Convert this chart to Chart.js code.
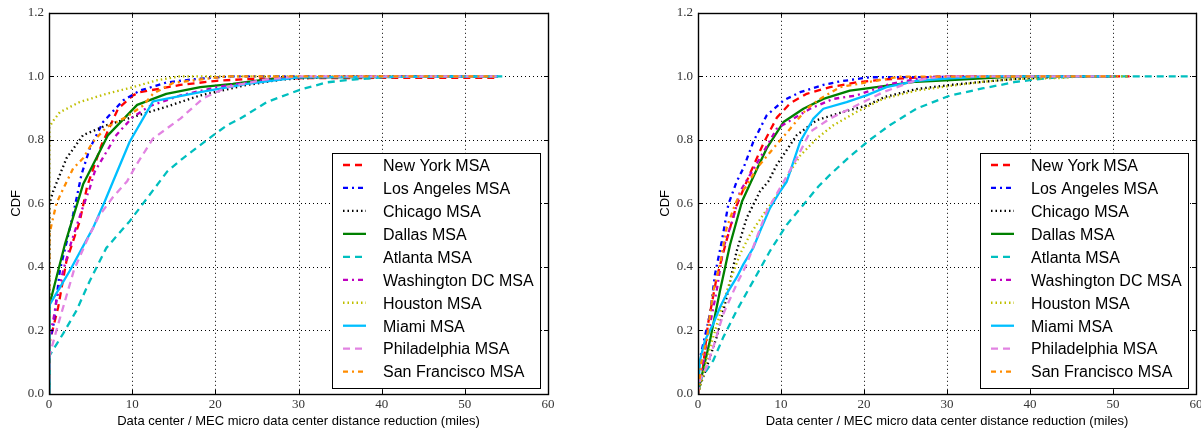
<!DOCTYPE html>
<html>
<head>
<meta charset="utf-8">
<script src="https://cdn.jsdelivr.net/npm/chart.js@4.4.1/dist/chart.umd.min.js"></script>
<style>
  html, body { margin: 0; padding: 0; background: #fff; overflow: hidden; width: 1201px; height: 433px; }
  canvas { position: absolute; top: 0; }
  #left { left: 0; }
  #right { left: 649px; }
</style>
</head>
<body>
<canvas id="left" width="600" height="433"></canvas>
<canvas id="right" width="560" height="433"></canvas>
<script>
// ---------- categories ----------
const SERIES = ['New York MSA', 'Los Angeles MSA', 'Chicago MSA', 'Dallas MSA', 'Atlanta MSA',
  'Washington DC MSA', 'Houston MSA', 'Miami MSA', 'Philadelphia MSA', 'San Francisco MSA'];
const X_TICKS = [0, 10, 20, 30, 40, 50, 60];
const Y_TICKS = [0.0, 0.2, 0.4, 0.6, 0.8, 1.0, 1.2];
const X_TITLE = 'Data center / MEC micro data center distance reduction (miles)';
const Y_TITLE = 'CDF';

// ---------- left chart data (miles, CDF) ----------
const L_NY_X = [0, 0.05, 1.1, 2.1, 3.7, 4.6, 6.3, 8.3, 10.1, 10.9, 15.8, 20.2, 24.2, 30, 40, 54];
const L_NY_Y = [0, 0.16, 0.273, 0.419, 0.544, 0.655, 0.783, 0.898, 0.94, 0.95, 0.973, 0.986, 0.992, 0.994, 0.995, 0.995];
const L_LA_X = [0, 0.05, 0.5, 1.3, 2.9, 3.9, 4.9, 6.5, 8.9, 10.9, 14.2, 17.8, 22, 54];
const L_LA_Y = [0, 0.17, 0.21, 0.388, 0.565, 0.69, 0.773, 0.856, 0.924, 0.955, 0.981, 0.992, 1.0, 1.0];
const L_CHI_X = [0, 0.05, 0.5, 2.1, 4.1, 6.9, 10.1, 14.2, 18.2, 23.4, 28, 35, 54];
const L_CHI_Y = [0, 0.6, 0.638, 0.742, 0.815, 0.846, 0.872, 0.905, 0.94, 0.971, 0.99, 1.0, 1.0];
const L_DAL_X = [0, 0.05, 1.9, 4.1, 5.9, 7.1, 10.6, 14.1, 18.2, 22.1, 26.2, 30, 54];
const L_DAL_Y = [0, 0.28, 0.47, 0.66, 0.753, 0.815, 0.91, 0.945, 0.966, 0.976, 0.99, 0.997, 1.0];
const L_ATL_X = [0, 0.05, 1.7, 3.3, 4.9, 6.9, 9.7, 11.9, 14.2, 16.1, 19, 21.4, 23, 26.2, 30.2, 33.4, 36.6, 40.2, 45, 54.5];
const L_ATL_Y = [0, 0.12, 0.19, 0.2625, 0.356, 0.46, 0.544, 0.62, 0.70, 0.742, 0.8, 0.846, 0.867, 0.919, 0.958, 0.981, 0.99, 0.997, 1.0, 1.0];
const L_WAS_X = [0, 0.05, 0.5, 0.9, 1.7, 2.7, 3.9, 4.9, 5.5, 8.1, 10, 12, 15.8, 20.2, 25, 30, 40, 54];
const L_WAS_Y = [0, 0.18, 0.23, 0.294, 0.388, 0.48, 0.575, 0.648, 0.7, 0.815, 0.87, 0.905, 0.94, 0.966, 0.985, 0.997, 1.0, 1.0];
const L_HOU_X = [0, 0.05, 0.5, 1.3, 3.7, 6.9, 10.1, 12.9, 15.7, 54];
const L_HOU_Y = [0, 0.84, 0.86, 0.887, 0.919, 0.945, 0.966, 0.987, 1.0, 1.0];
const L_MIA_X = [0, 0.05, 2.5, 5.3, 6.7, 7.7, 9.7, 12.5, 18.2, 23.8, 30, 54];
const L_MIA_Y = [0, 0.28, 0.388, 0.523, 0.606, 0.669, 0.794, 0.921, 0.95, 0.976, 0.997, 1.0];
const L_PHI_X = [0, 0.05, 1, 2, 3, 4.5, 6, 7.7, 9.4, 10.5, 12.5, 15.8, 18.5, 21.4, 26, 30, 54];
const L_PHI_Y = [0, 0.12, 0.21, 0.3, 0.39, 0.48, 0.56, 0.62, 0.67, 0.721, 0.804, 0.867, 0.93, 0.966, 0.99, 1.0, 1.0];
const L_SF_X = [0, 0.05, 0.3, 0.9, 1.6, 2.9, 4.1, 5.3, 6.9, 9.3, 11.3, 12.5, 14.9, 18.2, 21.4, 54];
const L_SF_Y = [0, 0.5, 0.533, 0.6, 0.64, 0.71, 0.742, 0.794, 0.84, 0.872, 0.908, 0.945, 0.979, 0.99, 1.0, 1.0];

// ---------- right chart data (miles, CDF) ----------
const R_NY_X = [0, 0.6, 1.2, 2.2, 3.4, 4.6, 6.2, 7.9, 9.5, 11.1, 13.1, 15.9, 19.1, 22.3, 27, 30, 52];
const R_NY_Y = [0, 0.085, 0.22, 0.36, 0.48, 0.59, 0.69, 0.79, 0.87, 0.915, 0.945, 0.966, 0.981, 0.99, 0.997, 1.0, 1.0];
const R_LA_X = [0, 0.3, 1.45, 2.05, 2.86, 3.65, 4.66, 5.46, 6.66, 8.27, 10.3, 12.3, 15.1, 17.1, 20.7, 50];
const R_LA_Y = [0, 0.12, 0.252, 0.377, 0.48, 0.596, 0.669, 0.71, 0.794, 0.877, 0.924, 0.95, 0.973, 0.984, 0.997, 1.0];
const R_CHI_X = [0, 0.3, 1.05, 2.25, 3.45, 4.66, 5.86, 7.47, 8.47, 9.48, 11.9, 14.3, 17.5, 20.3, 22.5, 26.3, 30.4, 34.4, 38.4, 45, 50];
const R_CHI_Y = [0, 0.03, 0.085, 0.179, 0.304, 0.45, 0.554, 0.638, 0.669, 0.721, 0.815, 0.862, 0.888, 0.908, 0.935, 0.96, 0.973, 0.983, 0.992, 1.0, 1.0];
const R_DAL_X = [0, 0.24, 1.45, 2.65, 3.86, 5.3, 6.4, 8.27, 10.3, 12.7, 15.1, 18.3, 21.5, 26.3, 30.4, 36.4, 40, 50];
const R_DAL_Y = [0, 0.033, 0.169, 0.325, 0.47, 0.606, 0.669, 0.773, 0.856, 0.898, 0.929, 0.955, 0.966, 0.983, 0.988, 0.997, 1.0, 1.0];
const R_ATL_X = [0, 0.24, 1.85, 3.05, 4.66, 6.66, 8.67, 10.7, 12.7, 14.5, 15.9, 18.3, 20.7, 23.1, 26.3, 30.4, 34.4, 38.4, 42, 46, 59];
const R_ATL_Y = [0, 0.044, 0.106, 0.179, 0.2625, 0.356, 0.45, 0.533, 0.596, 0.653, 0.69, 0.748, 0.8, 0.846, 0.898, 0.94, 0.9625, 0.983, 0.994, 1.0, 1.0];
const R_WAS_X = [0, 0.5, 1.3, 2.25, 3.05, 4.25, 5.06, 6.27, 7.67, 9.48, 11.5, 13.5, 16.3, 19.1, 23, 27, 30, 50];
const R_WAS_Y = [0, 0.08, 0.2, 0.325, 0.46, 0.554, 0.6375, 0.69, 0.752, 0.835, 0.867, 0.898, 0.929, 0.94, 0.975, 0.995, 1.0, 1.0];
const R_HOU_X = [0, 0.5, 1.5, 2.65, 3.86, 5.06, 6.27, 7.87, 9.9, 11.1, 12.3, 14.3, 16.3, 19.1, 22.3, 26.3, 30.4, 34.4, 38.4, 44, 46, 52];
const R_HOU_Y = [0, 0.05, 0.15, 0.252, 0.356, 0.44, 0.502, 0.565, 0.64, 0.70, 0.75, 0.804, 0.846, 0.888, 0.929, 0.955, 0.97, 0.983, 0.992, 0.995, 1.0, 1.0];
const R_MIA_X = [0, 0.24, 0.84, 1.85, 2.65, 3.45, 4.66, 5.46, 6.66, 7.47, 8.67, 9.88, 10.7, 11.1, 12.3, 13.9, 15.1, 17.9, 20.3, 22.7, 26.3, 30.4, 35, 50];
const R_MIA_Y = [0, 0.106, 0.169, 0.221, 0.273, 0.315, 0.367, 0.408, 0.46, 0.5125, 0.585, 0.6375, 0.669, 0.70, 0.794, 0.867, 0.898, 0.919, 0.94, 0.966, 0.986, 0.994, 1.0, 1.0];
const R_PHI_X = [0, 0.24, 1.05, 1.85, 3.05, 4.66, 5.86, 7.07, 8.27, 9.88, 11.9, 13.5, 15.9, 18.3, 20.3, 22.3, 26, 28, 30, 50];
const R_PHI_Y = [0, 0.044, 0.085, 0.148, 0.252, 0.346, 0.408, 0.492, 0.575, 0.648, 0.742, 0.825, 0.867, 0.898, 0.924, 0.95, 0.985, 0.995, 1.0, 1.0];
const R_SF_X = [0, 0.4, 1.05, 1.45, 1.85, 2.65, 3.45, 4.46, 5.06, 5.86, 7.07, 9.07, 11.1, 13.1, 14.7, 17.1, 20.3, 24.3, 50];
const R_SF_Y = [0, 0.1, 0.169, 0.252, 0.325, 0.408, 0.523, 0.596, 0.63, 0.655, 0.71, 0.773, 0.835, 0.898, 0.929, 0.966, 0.981, 0.999, 1.0];

// ---------- styles (matplotlib classic look) ----------
const DASHED = [7, 5], DASHDOT = [5, 4, 2, 4], DOTTED = [1.5, 3], SOLID = [];
const STYLES = [
  { color: '#ff0000', dash: DASHED },
  { color: '#0000ff', dash: DASHDOT },
  { color: '#000000', dash: DOTTED },
  { color: '#008000', dash: SOLID },
  { color: '#00bfbf', dash: DASHED },
  { color: '#bf00bf', dash: DASHDOT },
  { color: '#bfbf00', dash: DOTTED },
  { color: '#00bfff', dash: SOLID },
  { color: '#e283e2', dash: DASHED },
  { color: '#ff8c00', dash: DASHDOT },
];

const LEFT = [[L_NY_X, L_NY_Y], [L_LA_X, L_LA_Y], [L_CHI_X, L_CHI_Y], [L_DAL_X, L_DAL_Y], [L_ATL_X, L_ATL_Y],
  [L_WAS_X, L_WAS_Y], [L_HOU_X, L_HOU_Y], [L_MIA_X, L_MIA_Y], [L_PHI_X, L_PHI_Y], [L_SF_X, L_SF_Y]];
const RIGHT = [[R_NY_X, R_NY_Y], [R_LA_X, R_LA_Y], [R_CHI_X, R_CHI_Y], [R_DAL_X, R_DAL_Y], [R_ATL_X, R_ATL_Y],
  [R_WAS_X, R_WAS_Y], [R_HOU_X, R_HOU_Y], [R_MIA_X, R_MIA_Y], [R_PHI_X, R_PHI_Y], [R_SF_X, R_SF_Y]];

function buildDatasets(pairs) {
  return pairs.map(([xs, ys], i) => ({
    label: SERIES[i],
    data: xs.map((x, k) => ({ x: x, y: ys[k] })),
    borderColor: STYLES[i].color,
    backgroundColor: STYLES[i].color,
    borderDash: STYLES[i].dash,
    borderWidth: 2.3,
    borderCapStyle: 'butt',
    borderJoinStyle: 'round',
    pointRadius: 0,
    tension: 0,
    fill: false,
    order: pairs.length - i
  }));
}

// grid, frame and inward ticks like matplotlib
const mplFrame = {
  id: 'mplFrame',
  beforeDatasetsDraw(chart) {
    const { ctx, chartArea: a, scales: { x, y } } = chart;
    ctx.save();
    ctx.strokeStyle = '#000';
    ctx.lineWidth = 1;
    ctx.setLineDash([1, 3]);
    x.ticks.forEach(t => {
      const px = Math.round(x.getPixelForValue(t.value)) + 0.5;
      if (px <= a.left + 2 || px >= a.right - 2) return;
      ctx.beginPath(); ctx.moveTo(px, a.top); ctx.lineTo(px, a.bottom); ctx.stroke();
    });
    y.ticks.forEach(t => {
      const py = Math.round(y.getPixelForValue(t.value)) + 0.5;
      if (py <= a.top + 2 || py >= a.bottom - 2) return;
      ctx.beginPath(); ctx.moveTo(a.left, py); ctx.lineTo(a.right, py); ctx.stroke();
    });
    ctx.restore();
  },
  afterDatasetsDraw(chart) {
    const { ctx, chartArea: a, scales: { x, y } } = chart;
    ctx.save();
    ctx.setLineDash([]);
    ctx.strokeStyle = '#000';
    ctx.lineWidth = 1;
    const L = 4;
    x.ticks.forEach(t => {
      const px = Math.round(x.getPixelForValue(t.value)) + 0.5;
      ctx.beginPath();
      ctx.moveTo(px, a.bottom); ctx.lineTo(px, a.bottom - L);
      ctx.moveTo(px, a.top); ctx.lineTo(px, a.top + L);
      ctx.stroke();
    });
    y.ticks.forEach(t => {
      const py = Math.round(y.getPixelForValue(t.value)) + 0.5;
      ctx.beginPath();
      ctx.moveTo(a.left, py); ctx.lineTo(a.left + L, py);
      ctx.moveTo(a.right, py); ctx.lineTo(a.right - L, py);
      ctx.stroke();
    });
    ctx.lineWidth = 1.4;
    ctx.strokeRect(Math.round(a.left) + 0.5, Math.round(a.top) + 0.5,
      Math.round(a.right - a.left), Math.round(a.bottom - a.top));
    ctx.restore();
  }
};

// legend box inside the lower right of the plot
const boxLegend = {
  id: 'boxLegend',
  afterDatasetsDraw(chart) {
    const { ctx, chartArea: a } = chart;
    const w = 208, h = 235;
    const x0 = Math.round(a.right) - 8 - w;
    const y0 = Math.round(a.bottom) - 6 - h;
    ctx.save();
    ctx.fillStyle = '#fff';
    ctx.fillRect(x0, y0, w, h);
    ctx.strokeStyle = '#000';
    ctx.lineWidth = 1;
    ctx.setLineDash([]);
    ctx.strokeRect(x0 + 0.5, y0 + 0.5, w, h);
    ctx.font = '16px "Liberation Sans", Arial, sans-serif';
    ctx.textBaseline = 'alphabetic';
    chart.data.datasets.forEach((ds, i) => {
      const cy = y0 + 12 + i * 22.96;
      ctx.beginPath();
      ctx.setLineDash(ds.borderDash || []);
      ctx.strokeStyle = ds.borderColor;
      ctx.lineWidth = ds.borderWidth;
      ctx.moveTo(x0 + 11, cy);
      ctx.lineTo(x0 + 34, cy);
      ctx.stroke();
      ctx.setLineDash([]);
      ctx.fillStyle = '#000';
      ctx.fillText(ds.label, x0 + 51, cy + 5.8);
    });
    ctx.restore();
  }
};

function makeChart(canvasId, pairs, rightPad) {
  return new Chart(document.getElementById(canvasId), {
    type: 'line',
    data: { datasets: buildDatasets(pairs) },
    plugins: [mplFrame, boxLegend],
    options: {
      responsive: false,
      animation: false,
      devicePixelRatio: 1,
      parsing: false,
      layout: { padding: { top: 10, right: rightPad, left: 0, bottom: 0 } },
      plugins: { legend: { display: false }, tooltip: { enabled: false } },
      scales: {
        x: {
          type: 'linear',
          min: X_TICKS[0], max: X_TICKS[X_TICKS.length - 1],
          afterBuildTicks: s => { s.ticks = X_TICKS.map(v => ({ value: v })); },
          afterFit: s => { s.height = 39; },
          grid: { display: false, drawTicks: false },
          border: { display: false },
          ticks: {
            maxRotation: 0, autoSkip: false, padding: 3,
            color: '#333',
            font: { family: '"Liberation Serif", "Times New Roman", serif', size: 13 },
            callback: v => String(v)
          },
          title: {
            display: true, text: X_TITLE, color: '#000',
            font: { family: '"Liberation Sans", Arial, sans-serif', size: 13 },
            padding: { top: 0, bottom: 4 }
          }
        },
        y: {
          type: 'linear',
          min: Y_TICKS[0], max: Y_TICKS[Y_TICKS.length - 1],
          afterBuildTicks: s => { s.ticks = Y_TICKS.map(v => ({ value: v })); },
          afterFit: s => { s.width = 49; },
          grid: { display: false, drawTicks: false },
          border: { display: false },
          ticks: {
            autoSkip: false, padding: 5,
            color: '#333',
            font: { family: '"Liberation Serif", "Times New Roman", serif', size: 13 },
            callback: v => Number(v).toFixed(1)
          },
          title: {
            display: true, text: Y_TITLE, color: '#000',
            font: { family: '"Liberation Sans", Arial, sans-serif', size: 13 },
            padding: { top: 9, bottom: 0 }
          }
        }
      }
    }
  });
}

makeChart('left', LEFT, 52);
makeChart('right', RIGHT, 13);
</script>
</body>
</html>
